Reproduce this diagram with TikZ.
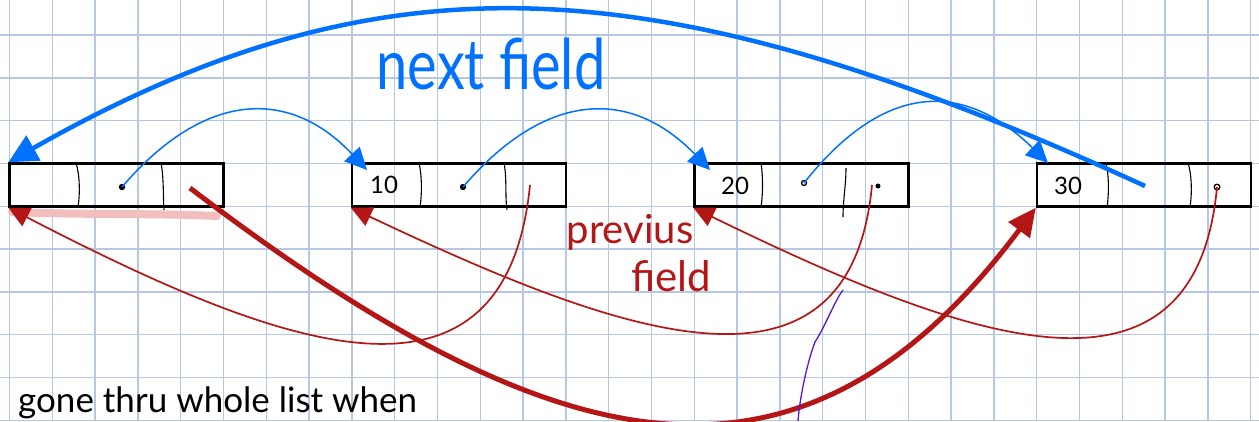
\documentclass[tikz,border=0pt]{standalone}
\usepackage{fontspec}
\setmainfont{Lato}
\usetikzlibrary{arrows.meta}
\definecolor{gridc}{RGB}{182,199,226}
\definecolor{pblue}{RGB}{0,112,255}
\definecolor{pred}{RGB}{180,22,22}
\definecolor{ppink}{RGB}{242,190,190}
\definecolor{ppurple}{RGB}{90,20,220}
\begin{document}
\begin{tikzpicture}[x=1pt,y=-1pt,
  box/.style={draw=black, line width=2.4pt, minimum width=214pt, minimum height=43pt, inner sep=0pt},
  divider/.style={draw=black, line width=1.1pt},
  gridline/.style={draw=gridc, line width=1.5pt},
  bluethin/.style={draw=pblue, line width=1.5pt, -{Triangle[length=22pt,width=21pt]}},
  bluethick/.style={draw=pblue, line width=4.5pt, -{Triangle[length=29pt,width=28pt]}},
  redthin/.style={draw=pred, line width=1.7pt, -{Triangle[length=21pt,width=20pt]}},
  redthick/.style={draw=pred, line width=5pt, -{Triangle[length=28pt,width=26pt]}},
  numtext/.style={font=\fontsize{24}{24}\selectfont, inner sep=0pt}
]
\useasboundingbox (0,0) rectangle (1259,421);
\fill[white] (0,0) rectangle (1259,421);
% grid
\foreach \i in {0,...,29} \draw[gridline] ({9.5+42.8*\i},0) -- ({9.5+42.8*\i},421);
\foreach \k in {-6,...,3} \draw[gridline] (0,{163.5-42.8*\k}) -- (1259,{163.5-42.8*\k});
% pink highlight
\draw[ppink, line width=8pt, line cap=round] (12,212) .. controls (80,215) and (150,213) .. (217,216);
% boxes
\node[box] (b1) at (116.5,185) {};
\node[box] (b2) at (459,185) {};
\node[box] (b3) at (801.5,185) {};
\node[box] (b4) at (1144,185) {};
% dividers
\draw[divider] (76,163) .. controls (80,175) and (80,195) .. (78,207);
\draw[divider] (161,163) .. controls (164,178) and (163,198) .. (164,210);
\draw[divider] (419,163) .. controls (422,175) and (422,195) .. (420,207);
\draw[divider] (504,163) .. controls (507,178) and (505,198) .. (507,210);
\draw[divider] (761,163) .. controls (763,175) and (763,195) .. (761,207);
\draw[divider] (846,168) .. controls (846,185) and (843,200) .. (843,217);
\draw[divider] (1106,163) .. controls (1109,175) and (1109,195) .. (1107,207);
\draw[divider] (1188,163) .. controls (1192,175) and (1192,195) .. (1190,207);
% numbers
\node[numtext] (n10) at (384,185) {10};
\node[numtext] (n20) at (735,186) {20};
\node[numtext] (n30) at (1068,186) {30};
% pointer dots and anchors
\coordinate (d1) at (122,187);
\coordinate (d2) at (463,187);
\coordinate (d3) at (804,183);
\coordinate (t2) at (367,170);
\coordinate (t3) at (710,170);
\coordinate (t4) at (1048,163);
\coordinate (s4) at (1145,186);
\coordinate (r2) at (530,185);
\coordinate (r3) at (872,185);
\coordinate (r4) at (1217,187);
\coordinate (q1) at (190,188);
\fill (d1) circle (3.2pt);
\fill (d2) circle (3.2pt);
\draw[line width=1.3pt] (d3) circle (2.5pt);
\fill (878,186) circle (2.5pt);
\draw[line width=1.3pt] (r4) circle (2.8pt);
% next arrows (blue)
\draw[bluethin] (d1) .. controls (205,90) and (290,88) .. (t2);
\draw[bluethin] (d2) .. controls (546,90) and (631,88) .. (t3);
\draw[bluethin] (d3) .. controls (884,82) and (963,80) .. (t4);
\draw[bluethick] (s4) .. controls (661,-36) and (386,-52) .. (b1.north west);
% previous arrows (red)
\draw[redthin] (r2) .. controls (505,435) and (276,346) .. (b1.south west);
\draw[redthin] (r3) .. controls (850,420) and (620,335) .. (b2.south west);
\draw[redthin] (r4) .. controls (1195,425) and (965,340) .. (b3.south west);
\draw[redthick] (q1) .. controls (550,462) and (797,527) .. (b4.south west);
% purple stroke
\draw[ppurple, line width=1.3pt] (843,290) .. controls (835,300) and (826,325) .. (815,342) .. controls (808,360) and (800,395) .. (798,421);
% labels
\node[text=pblue, font=\fontsize{56}{56}\selectfont, yscale=1.25, inner sep=0pt] (nf) at (491,64) {next field};
\node[text=pred, font=\fontsize{40}{40}\selectfont, inner sep=0pt] (pv) at (630,232) {previus};
\node[text=pred, font=\fontsize{42}{42}\selectfont, inner sep=0pt] (fd) at (671,276) {field};
\node[font=\fontsize{35}{35}\selectfont, anchor=base west, inner sep=0pt] (gone) at (18,412) {gone thru whole list when};
\end{tikzpicture}
\end{document}
